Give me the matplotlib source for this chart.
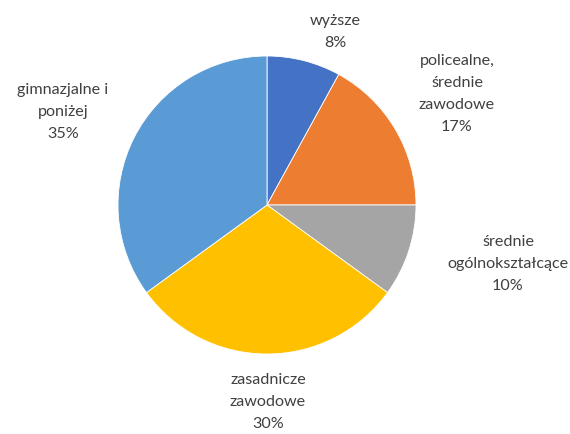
import matplotlib.pyplot as plt

labels = ["wyższe", "policealne,\nśrednie\nzawodowe", "średnie\nogólnokształcące",
          "zasadnicze\nzawodowe", "gimnazjalne i\nponiżej"]
values = [8, 17, 10, 30, 35]
colors = ["#4472C4", "#ED7D31", "#A5A5A5", "#FFC000", "#5B9BD5"]

# label centres in pixels (top-left origin), like Excel's best fit
label_pos = [(335, 32), (457, 94), (508, 264), (268, 402), (63, 112)]

fig = plt.figure(figsize=(5.7, 4.34), dpi=100)
ax = fig.add_axes([0, 0, 1, 1])
ax.set_aspect("equal")
ax.axis("off")

ax.pie(values, colors=colors, startangle=90, counterclock=False,
       center=(267, 434 - 205), radius=149,
       wedgeprops=dict(edgecolor="white", linewidth=0.6))

for lab, v, (x, y) in zip(labels, values, label_pos):
    ax.text(x, 434 - y, f"{lab}\n{v}%", ha="center", va="center",
            fontsize=11.6, color="#404040", family="Lato", linespacing=1.72)

ax.set_xlim(0, 570)
ax.set_ylim(0, 434)
fig.savefig("out.png", dpi=100)
